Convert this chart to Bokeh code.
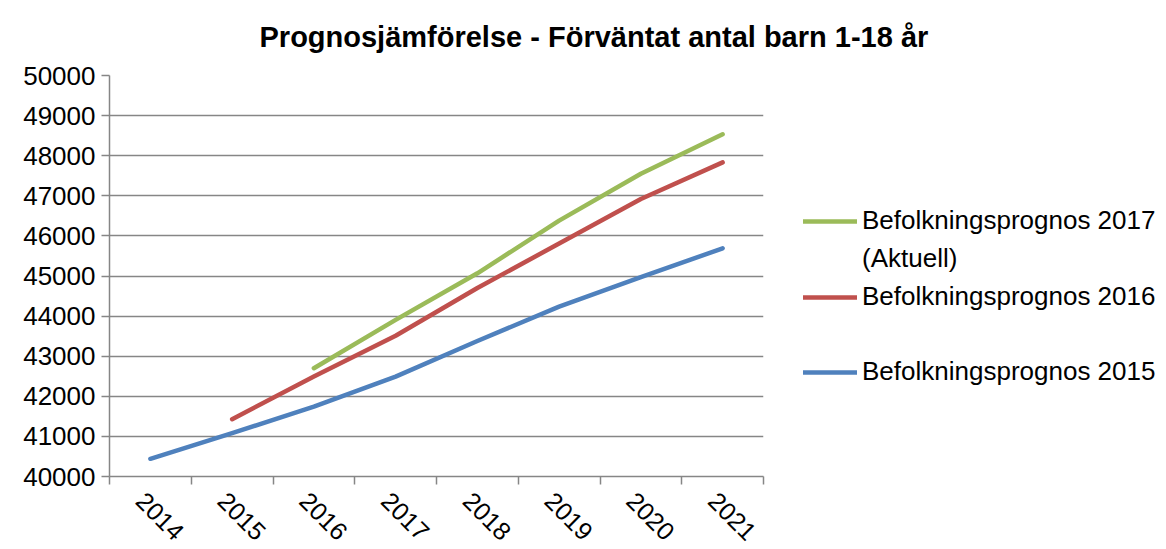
import math
from bokeh.plotting import figure
from bokeh.models import (Range1d, FixedTicker, Legend, LegendItem)
from bokeh.embed import file_html
from bokeh.resources import INLINE

years = ["2014", "2015", "2016", "2017", "2018", "2019", "2020", "2021"]
prog2015 = [40441, 41081, 41744, 42491, 43380, 44235, 44970, 45690]
prog2016 = [41430, 42491, 43510, 44700, 45810, 46920, 47833]
prog2016_years = years[1:]
prog2017 = [42700, 43905, 45067, 46380, 47550, 48535]
prog2017_years = years[2:]

y_ticks = list(range(40000, 50001, 1000))

title_text = "Prognosjämförelse - Förväntat antal barn 1-18 år"
label2017 = "Befolkningsprognos 2017"
label2017_note = "(Aktuell)"
label2016 = "Befolkningsprognos 2016"
label2015 = "Befolkningsprognos 2015"

FONT = "Liberation Sans"
GRAY = "#868686"
LABEL_SHIFT = -0.12  # visual nudge of the rotated category labels

def pos(ys):
    return [years.index(y) + 0.5 for y in ys]

p = figure(width=1166, height=549, output_backend="svg", toolbar_location=None,
           x_range=Range1d(0, len(years)), y_range=Range1d(40000, 50000))
p.frame_width = 654
p.frame_height = 401
p.min_border_left = 109
p.min_border_top = 75
p.min_border_bottom = 60
p.min_border_right = 403
p.outline_line_color = None
p.background_fill_color = "white"
p.border_fill_color = "white"

p.title.text = title_text
p.title.text_font = FONT
p.title.text_font_style = "bold"
p.title.text_font_size = "29px"
p.title.text_color = "black"
p.title.align = "left"
p.title.vertical_align = "top"
p.title.offset = 150
p.title.standoff = 41

# x axis: labels at category centres, tick marks between categories
xa = p.xaxis[0]
label_pos = [i + 0.5 + LABEL_SHIFT for i in range(len(years))]
xa.ticker = FixedTicker(ticks=label_pos, minor_ticks=list(range(len(years) + 1)))
xa.major_label_overrides = {lp: y for lp, y in zip(label_pos, years)}
xa.major_tick_out = 0
xa.major_tick_in = 0
xa.minor_tick_out = 8
xa.minor_tick_in = 0
xa.minor_tick_line_color = GRAY
xa.axis_line_color = GRAY
xa.axis_line_width = 1.5
xa.minor_tick_line_width = 1.5
xa.major_label_orientation = -math.pi / 4
xa.major_label_text_font = FONT
xa.major_label_text_font_size = "25px"
xa.major_label_text_color = "black"
xa.major_label_standoff = 12

ya = p.yaxis[0]
ya.ticker = FixedTicker(ticks=y_ticks)
ya.minor_tick_line_color = None
ya.major_tick_out = 8
ya.major_tick_in = 0
ya.major_tick_line_color = GRAY
ya.major_tick_line_width = 1.5
ya.axis_line_color = GRAY
ya.axis_line_width = 1.5
ya.major_label_text_font = FONT
ya.major_label_text_font_size = "26px"
ya.major_label_text_color = "black"
ya.major_label_standoff = 6

p.xgrid.grid_line_color = None
p.ygrid.ticker = FixedTicker(ticks=y_ticks)
p.ygrid.grid_line_color = GRAY
p.ygrid.grid_line_width = 1.5

r17 = p.line(pos(prog2017_years), prog2017, line_color="#9BBB59", line_width=4.5,
             line_cap="round", line_join="round")
r16 = p.line(pos(prog2016_years), prog2016, line_color="#C0504D", line_width=4.5,
             line_cap="round", line_join="round")
r15 = p.line(pos(years), prog2015, line_color="#4F81BD", line_width=4.5,
             line_cap="round", line_join="round")
# glyph-less legend rows (continuation line and empty row)
r_blank = p.line([], [], line_alpha=0)

legend = Legend(items=[LegendItem(label=label2017, renderers=[r17]),
                       LegendItem(label=label2017_note, renderers=[r_blank]),
                       LegendItem(label=label2016, renderers=[r16]),
                       LegendItem(label=" ", renderers=[r_blank]),
                       LegendItem(label=label2015, renderers=[r15])],
                location=(40, 89), orientation="vertical")
legend.label_text_font = FONT
legend.label_text_font_size = "26px"
legend.label_text_color = "black"
legend.glyph_width = 54
legend.glyph_height = 30
legend.label_standoff = 5
legend.label_height = 30
legend.spacing = 7
legend.padding = 0
legend.margin = 0
legend.border_line_color = None
legend.background_fill_alpha = 0
p.add_layout(legend, "right")

open("out.html", "w").write(file_html(p, INLINE))
